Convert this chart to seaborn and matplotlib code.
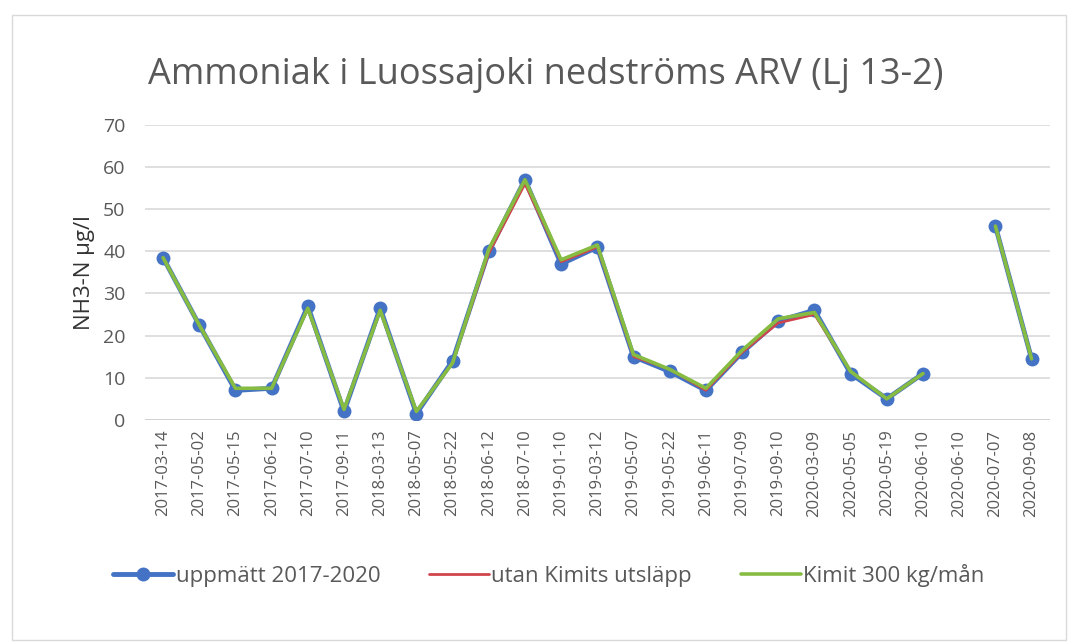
import numpy as np
import pandas as pd
import matplotlib.pyplot as plt
import seaborn as sns
from matplotlib.patches import Rectangle
from matplotlib.lines import Line2D

# Data
dates = ['2017-03-14', '2017-05-02', '2017-05-15', '2017-06-12', '2017-07-10',
         '2017-09-11', '2018-03-13', '2018-05-07', '2018-05-22', '2018-06-12',
         '2018-07-10', '2019-01-10', '2019-03-12', '2019-05-07', '2019-05-22',
         '2019-06-11', '2019-07-09', '2019-09-10', '2020-03-09', '2020-05-05',
         '2020-05-19', '2020-06-10', '2020-06-10', '2020-07-07', '2020-09-08']
measured = [38.5, 22.5, 7, 7.5, 27, 2, 26.5, 1.5, 14, 40, 57, 37, 41, 15, 11.5,
            7, 16, 23.5, 26, 11, 5, 11, np.nan, 46, 14.5]
no_kimit = [38.5, 22.5, 7.5, 7.5, 26.5, 2.5, 26, 2, 13.5, 39.5, 56, 37.5, 41, 15, 12,
            7, 16, 23, 25, 11.5, 5, 11, np.nan, 46, 14.5]
kimit_300 = [38.5, 22.5, 7.5, 7.5, 26.5, 2.5, 26, 2, 13.5, 40.5, 57, 38, 41.5, 15.5, 12,
             7.5, 16.5, 24, 25.5, 11.5, 5, 11, np.nan, 46, 14.5]

BLUE = '#4472C4'
RED = '#D0454C'
GREEN = '#86BC42'
GREY = '#595959'

df = pd.DataFrame({'pos': np.arange(len(dates)),
                   'measured': measured, 'no_kimit': no_kimit, 'kimit': kimit_300})
# break lines at the missing value
df['seg'] = df['measured'].isna().cumsum()

sns.set_style('white')
plt.rcParams['font.family'] = ['Open Sans', 'DejaVu Sans']

fig = plt.figure(figsize=(10.7, 6.44), dpi=100)
ax = fig.add_axes([0.1355, 0.348, 0.8455, 0.458])

d = df.dropna()
sns.lineplot(data=d, x='pos', y='measured', units='seg', estimator=None, sort=False,
             color=BLUE, lw=3.5, marker='o', markersize=10, markeredgewidth=0, ax=ax)
sns.lineplot(data=d, x='pos', y='no_kimit', units='seg', estimator=None, sort=False,
             color=RED, lw=1.8, ax=ax)
sns.lineplot(data=d, x='pos', y='kimit', units='seg', estimator=None, sort=False,
             color=GREEN, lw=2.6, ax=ax)

ax.set_xlim(-0.5, len(dates) - 0.5)
ax.set_ylim(0, 70)
ax.set_yticks(range(0, 71, 10))
ax.set_xticks(df['pos'])
ax.set_xticklabels(dates, rotation=90, fontsize=12, color=GREY)
ax.tick_params(axis='y', labelsize=14, labelcolor=GREY, length=0, pad=14)
ax.tick_params(axis='x', length=0, pad=7)
ax.grid(axis='y', color='#D9D9D9', lw=1.2)
ax.axhline(0, color='#D0D0D0', lw=2, zorder=1)
for s in ax.spines.values():
    s.set_visible(False)
ax.set_xlabel('')
ax.set_ylabel('NH3-N µg/l', fontsize=16, color='#333333', labelpad=6)

fig.text(0.51, 0.884, 'Ammoniak i Luossajoki nedströms ARV (Lj 13-2)',
         ha='center', va='center', fontsize=26, color=GREY)

handles = [Line2D([], [], color=BLUE, lw=3.5, marker='o', markersize=9),
           Line2D([], [], color=RED, lw=2),
           Line2D([], [], color=GREEN, lw=2.6)]
labels = ['uppmätt 2017-2020', 'utan Kimits utsläpp', 'Kimit 300 kg/mån']
fig.legend(handles, labels, loc='center', bbox_to_anchor=(0.513, 0.107), ncol=3,
           frameon=False, fontsize=16, handlelength=2.7, columnspacing=2.2,
           handletextpad=0.1, labelcolor=GREY)

fig.patches.append(Rectangle((0.011, 0.006), 0.985, 0.97, transform=fig.transFigure,
                             fill=False, edgecolor='#D9D9D9', lw=1))

fig.savefig('out.png', dpi=100)
